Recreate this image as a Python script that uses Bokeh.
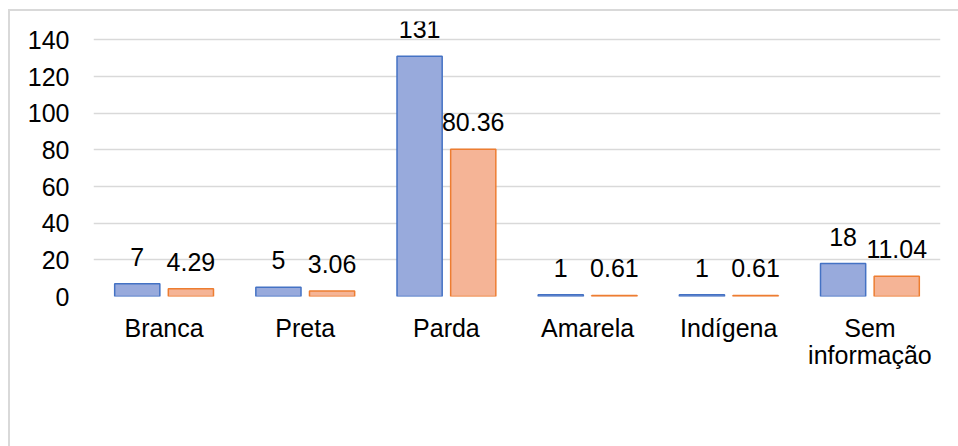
from bokeh.plotting import figure
from bokeh.models import (ColumnDataSource, FixedTicker, Legend, LegendItem, Range1d, LinearAxis)
from bokeh.transform import dodge
from bokeh.embed import file_html
from bokeh.resources import INLINE
from bokeh.core.properties import value

categories = ["Branca", "Preta", "Parda", "Amarela", "Indígena", "Sem informação"]
total = [7, 5, 131, 1, 1, 18]
pct = [4.29, 3.06, 80.36, 0.61, 0.61, 11.04]
total_labels = ["7", "5", "131", "1", "1", "18"]
pct_labels = ["4.29", "3.06", "80.36", "0.61", "0.61", "11.04"]
y_ticks = [0, 20, 40, 60, 80, 100, 120, 140]

# category labels split in two lines (Excel wraps "Sem informação")
line1 = [c.split(" ")[0] for c in categories]
line2 = [" ".join(c.split(" ")[1:]) for c in categories]
idx = list(range(len(categories)))

FONT = "Liberation Sans"
FS = "25px"

src = ColumnDataSource(dict(x=idx, total=total, pct=pct,
                            total_labels=total_labels, pct_labels=pct_labels))

p = figure(x_range=Range1d(-0.5, len(categories) - 0.5), y_range=Range1d(0, 150),
           frame_width=847, frame_height=275, output_backend="svg", toolbar_location=None,
           min_border_left=83, min_border_right=18, min_border_top=10, min_border_bottom=0)
p.styles = {"margin-left": "8px", "margin-top": "9px",
            "border-top": "2px solid #d9d9d9", "border-left": "2px solid #d9d9d9"}
p.outline_line_color = None
p.xgrid.grid_line_color = None
p.ygrid.grid_line_color = "#d9d9d9"
p.ygrid.grid_line_width = 1.5
p.yaxis.ticker = FixedTicker(ticks=y_ticks)

x1 = p.xaxis[0]
x1.ticker = FixedTicker(ticks=idx)
x1.major_label_overrides = {i: t for i, t in zip(idx, line1)}
x2_ticks = [i for i, t in zip(idx, line2) if t]
x2 = LinearAxis(ticker=FixedTicker(ticks=x2_ticks),
                major_label_overrides={i: t for i, t in zip(idx, line2) if t})
p.add_layout(x2, "below")


def style_axis(ax):
    ax.axis_line_color = None
    ax.major_tick_line_color = None
    ax.minor_tick_line_color = None
    ax.major_tick_out = 0
    ax.major_tick_in = 0
    ax.minor_tick_out = 0
    ax.minor_tick_in = 0
    ax.major_label_text_font = FONT
    ax.major_label_text_font_size = FS
    ax.major_label_text_color = "#000000"


for ax in (x1, p.yaxis[0], x2):
    style_axis(ax)
p.yaxis.major_label_standoff = 24
x1.major_label_standoff = 17
x2.major_label_standoff = -4

BAR_W = 0.32
OFF = 0.19
r1 = p.vbar(x=dodge("x", -OFF), top="total", width=BAR_W, source=src,
            fill_color="#98aadc", line_color="#4472c4", line_width=1.5)
r2 = p.vbar(x=dodge("x", OFF), top="pct", width=BAR_W, source=src,
            fill_color="#f5b496", line_color="#ed7d31", line_width=1.5)

p.text(x=dodge("x", -OFF), y="total", text="total_labels", source=src,
       text_align="center", text_baseline="alphabetic", y_offset=-27,
       text_font=value(FONT), text_font_size=FS, text_color="#000000")
p.text(x=dodge("x", OFF), y="pct", text="pct_labels", source=src,
       text_align="center", text_baseline="alphabetic", y_offset=-27,
       text_font=value(FONT), text_font_size=FS, text_color="#000000")

legend = Legend(items=[LegendItem(label=value("Total"), renderers=[r1]),
                       LegendItem(label=value("%"), renderers=[r2])],
                orientation="horizontal", location=(330, 0), padding=0, margin=0,
                border_line_color=None, background_fill_alpha=0,
                glyph_width=15, glyph_height=15, label_standoff=7, spacing=14,
                label_text_font=FONT, label_text_font_size=FS, label_text_color="#000000")
p.add_layout(legend, "below")

open("out.html", "w").write(file_html(p, INLINE))
